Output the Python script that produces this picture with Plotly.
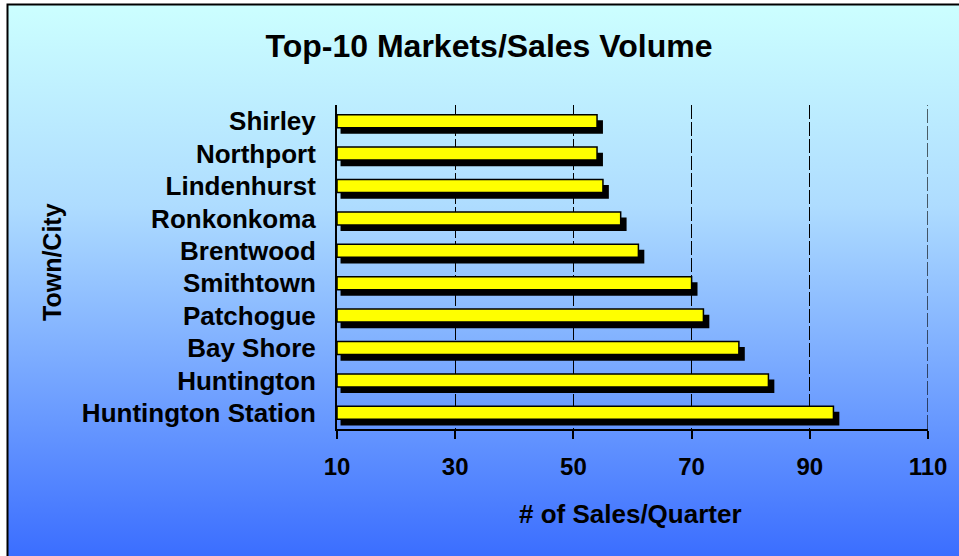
import base64
import plotly.graph_objects as go

# ---- data (bottom to top) ----
towns = ["Huntington Station", "Huntington", "Bay Shore", "Patchogue", "Smithtown",
         "Brentwood", "Ronkonkoma", "Lindenhurst", "Northport", "Shirley"]
sales = [94, 83, 78, 72, 70, 61, 58, 55, 54, 54]
x_ticks = [10, 30, 50, 70, 90, 110]

W, H = 959, 556
L, R, T, B = 337, 31, 105, 127
pw, ph = W - L - R, H - T - B

FONT = "Liberation Sans, Arial, sans-serif"

# background: white page, gradient panel with black border
svg = f'''<svg xmlns="http://www.w3.org/2000/svg" width="{W}" height="{H}" viewBox="0 0 {W} {H}" preserveAspectRatio="none">
<defs><linearGradient id="g" x1="0" y1="0" x2="0" y2="1">
<stop offset="0" stop-color="#CCFFFF"/><stop offset="0.35" stop-color="#AEDCFF"/><stop offset="1" stop-color="#3366FF"/></linearGradient></defs>
<rect x="0" y="0" width="{W}" height="{H}" fill="#FFFFFF"/>
<rect x="7.5" y="4.5" width="{W+20}" height="{H+20}" fill="url(#g)" stroke="#000000" stroke-width="2"/>
</svg>'''
src = "data:image/svg+xml;base64," + base64.b64encode(svg.encode()).decode()

def px_x(p):
    return (p - L) / pw

def px_y(p):
    return (H - B - p) / ph

shadow_shift = 0.6
fig = go.Figure()
fig.add_trace(go.Bar(
    y=towns, x=[v + 1 - (10 + shadow_shift) for v in sales], base=10 + shadow_shift,
    orientation="h", marker=dict(color="#000000", line=dict(width=0)),
    width=0.42, offset=-0.39, hoverinfo="skip", showlegend=False))
fig.add_trace(go.Bar(
    y=towns, x=[v - 10 for v in sales], base=10,
    orientation="h", marker=dict(color="#FFFF00", line=dict(color="#000000", width=1.5)),
    width=0.4, offset=-0.2, showlegend=False))

fig.update_layout(
    width=W, height=H, autosize=False,
    margin=dict(l=L, r=R, t=T, b=B, pad=0),
    paper_bgcolor="#FFFFFF", plot_bgcolor="rgba(0,0,0,0)",
    barmode="overlay",
    font=dict(family=FONT, color="#000000"),
    title=dict(text="Top-10 Markets/Sales Volume", x=489 / W, xref="container",
               xanchor="center", y=1 - 46 / H, yref="container", yanchor="middle",
               font=dict(family=FONT, size=32, weight="bold", color="#000000")),
    images=[dict(source=src, xref="paper", yref="paper", x=px_x(0), y=px_y(0),
                 sizex=W / pw, sizey=H / ph, xanchor="left", yanchor="top",
                 sizing="stretch", layer="below")],
    shapes=[dict(type="line", xref="x", yref="paper", x0=x_ticks[-1], x1=x_ticks[-1],
                 y0=0, y1=1, layer="below",
                 line=dict(color="#000000", width=1.2, dash="14px,3px"))],
    annotations=[
        dict(text="Town/City", xref="paper", yref="paper", x=px_x(52), y=px_y(262),
             textangle=-90, showarrow=False, xanchor="center", yanchor="middle",
             font=dict(family=FONT, size=25, weight="bold", color="#000000")),
        dict(text="# of Sales/Quarter", xref="paper", yref="paper", x=px_x(630), y=px_y(514),
             showarrow=False, xanchor="center", yanchor="middle",
             font=dict(family=FONT, size=26, weight="bold", color="#000000")),
    ],
)

fig.update_xaxes(
    range=[10, 110], tickvals=x_ticks, ticktext=[str(v) for v in x_ticks],
    showgrid=True, gridcolor="#000000", gridwidth=1.2, griddash="14px,3px",
    showline=True, linecolor="#000000", linewidth=2,
    ticks="outside", ticklen=8, tickwidth=2, tickcolor="#000000",
    ticklabelstandoff=7,
    tickfont=dict(family=FONT, size=24, weight="bold", color="#000000"),
    zeroline=False, fixedrange=True)
fig.update_yaxes(
    categoryorder="array", categoryarray=towns, range=[-0.5, 9.5],
    showgrid=False, showline=True, linecolor="#000000", linewidth=2,
    ticks="", ticklabelstandoff=14,
    tickfont=dict(family=FONT, size=26, weight="bold", color="#000000"),
    zeroline=False, fixedrange=True)

fig.write_html("out.html")
